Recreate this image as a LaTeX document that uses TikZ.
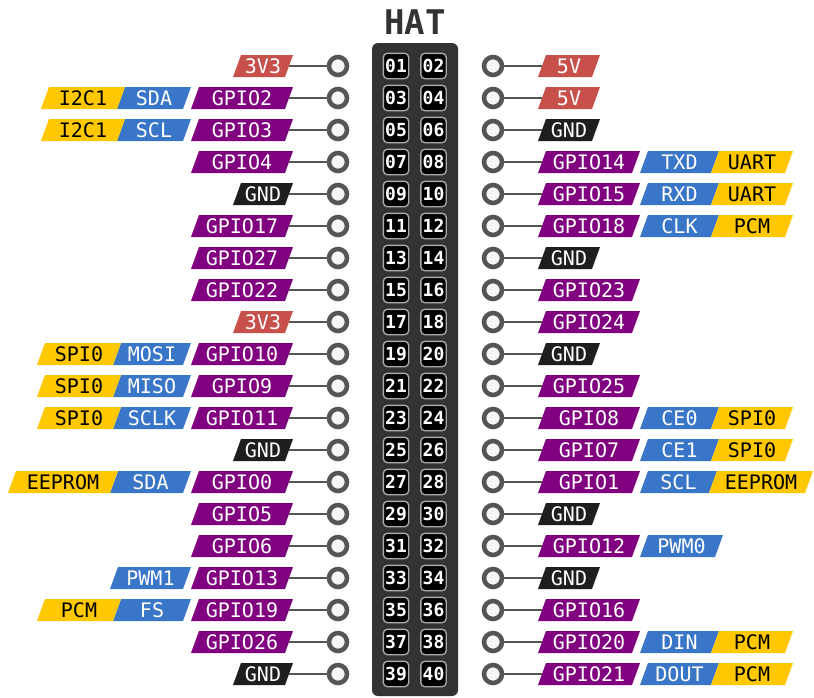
\documentclass[tikz,border=0pt]{standalone}
\usepackage{fontspec}
\newfontfamily\monofont{DejaVu Sans Mono}
\definecolor{cred}{RGB}{200,80,75}
\definecolor{cpur}{RGB}{128,0,128}
\definecolor{cblk}{RGB}{30,30,30}
\definecolor{cblu}{RGB}{58,118,200}
\definecolor{cyel}{RGB}{255,200,0}
\definecolor{cboard}{RGB}{51,51,51}
\definecolor{cwire}{RGB}{85,85,85}
\definecolor{chole}{RGB}{245,245,245}
\definecolor{cbox}{RGB}{170,170,170}
\tikzset{
  labtxt/.style={inner sep=0pt, minimum height=16.5pt, text height=10.9pt, text depth=0pt,
    font=\monofont\fontsize{15}{15}\selectfont},
  pinc/.style={circle, draw=cwire, fill=chole, line width=3.4pt, minimum size=13.5pt, inner sep=0pt},
  wire/.style={draw=cwire, line width=2.2pt},
  pinbox/.style={draw=cbox, fill=black, rounded corners=3pt, line width=1pt, minimum size=19pt,
    inner sep=0pt, text=white, text height=9.9pt, text depth=0pt,
    font=\monofont\bfseries\fontsize{13.5}{13.5}\selectfont},
  titlestyle/.style={inner sep=0pt, text=cboard, font=\monofont\bfseries\fontsize{25.5}{25.5}\selectfont},
}
\newcommand\slab[7]{%
  \fill[#5] ({#2},{34+32*#4+11}) -- ({#3},{34+32*#4+11}) -- ({#3+8},{34+32*#4-11}) -- ({#2+8},{34+32*#4-11}) -- cycle;
  \node[labtxt,text=#6,minimum width={(#3-#2)*0.75pt}] (#1) at ({(#2+#3)/2+4},{34+32*#4}) {#7};}
\newcommand\Lmain[4]{%
  \slab{L#1}{#2}{285}{#1}{#3}{white}{#4}
  \node[pinc] (CL#1) at (338,{34+32*#1}) {};
  \draw[wire] (L#1) -- (CL#1);}
\newcommand\Rmain[4]{%
  \slab{R#1}{538}{#2}{#1}{#3}{white}{#4}
  \node[pinc] (CR#1) at (493,{34+32*#1}) {};
  \draw[wire] (CR#1) -- (R#1);}
\newcommand\Lblue[3]{\slab{LB#1}{#3}{183}{#1}{cblu}{white}{#2}}
\newcommand\Lyel[4]{\slab{LY#1}{#3}{#4}{#1}{cyel}{black}{#2}}
\newcommand\Rblue[3]{\slab{RB#1}{640}{#3}{#1}{cblu}{white}{#2}}
\newcommand\Ryel[4]{\slab{RY#1}{#3}{#4}{#1}{cyel}{black}{#2}}
\begin{document}
\begin{tikzpicture}[x=0.75pt,y=-0.75pt]
\useasboundingbox (0,0) rectangle (814,697);
\node[titlestyle] (title) at (415,22.5) {HAT};
\fill[cboard, rounded corners=4.5pt] (372,43) rectangle (458,696);
\foreach \i/\a/\b in {1/01/02,2/03/04,3/05/06,4/07/08,5/09/10,6/11/12,7/13/14,8/15/16,9/17/18,10/19/20,
  11/21/22,12/23/24,13/25/26,14/27/28,15/29/30,16/31/32,17/33/34,18/35/36,19/37/38,20/39/40}{
  \node[pinbox] (P\a) at (396,{34+32*\i}) {\a};
  \node[pinbox] (P\b) at (433.5,{34+32*\i}) {\b};
}
% left side
\Lmain{1}{233}{cred}{3V3}
\Lmain{2}{191}{cpur}{GPIO2} \Lblue{2}{SDA}{117} \Lyel{2}{I2C1}{41}{117}
\Lmain{3}{191}{cpur}{GPIO3} \Lblue{3}{SCL}{117} \Lyel{3}{I2C1}{41}{117}
\Lmain{4}{191}{cpur}{GPIO4}
\Lmain{5}{233}{cblk}{GND}
\Lmain{6}{191}{cpur}{GPIO17}
\Lmain{7}{191}{cpur}{GPIO27}
\Lmain{8}{191}{cpur}{GPIO22}
\Lmain{9}{233}{cred}{3V3}
\Lmain{10}{191}{cpur}{GPIO10} \Lblue{10}{MOSI}{113} \Lyel{10}{SPI0}{37}{113}
\Lmain{11}{191}{cpur}{GPIO9} \Lblue{11}{MISO}{113} \Lyel{11}{SPI0}{37}{113}
\Lmain{12}{191}{cpur}{GPIO11} \Lblue{12}{SCLK}{113} \Lyel{12}{SPI0}{37}{113}
\Lmain{13}{233}{cblk}{GND}
\Lmain{14}{191}{cpur}{GPIO0} \Lblue{14}{SDA}{110} \Lyel{14}{EEPROM}{8}{110}
\Lmain{15}{191}{cpur}{GPIO5}
\Lmain{16}{191}{cpur}{GPIO6}
\Lmain{17}{191}{cpur}{GPIO13} \Lblue{17}{PWM1}{110}
\Lmain{18}{191}{cpur}{GPIO19} \Lblue{18}{FS}{113} \Lyel{18}{PCM}{37}{113}
\Lmain{19}{191}{cpur}{GPIO26}
\Lmain{20}{233}{cblk}{GND}
% right side
\Rmain{1}{592}{cred}{5V}
\Rmain{2}{592}{cred}{5V}
\Rmain{3}{592}{cblk}{GND}
\Rmain{4}{632}{cpur}{GPIO14} \Rblue{4}{TXD}{711} \Ryel{4}{UART}{711}{785}
\Rmain{5}{632}{cpur}{GPIO15} \Rblue{5}{RXD}{711} \Ryel{5}{UART}{711}{785}
\Rmain{6}{632}{cpur}{GPIO18} \Rblue{6}{CLK}{711} \Ryel{6}{PCM}{711}{785}
\Rmain{7}{592}{cblk}{GND}
\Rmain{8}{632}{cpur}{GPIO23}
\Rmain{9}{632}{cpur}{GPIO24}
\Rmain{10}{592}{cblk}{GND}
\Rmain{11}{632}{cpur}{GPIO25}
\Rmain{12}{632}{cpur}{GPIO8} \Rblue{12}{CE0}{711} \Ryel{12}{SPI0}{711}{785}
\Rmain{13}{632}{cpur}{GPIO7} \Rblue{13}{CE1}{711} \Ryel{13}{SPI0}{711}{785}
\Rmain{14}{632}{cpur}{GPIO1} \Rblue{14}{SCL}{709} \Ryel{14}{EEPROM}{709}{805}
\Rmain{15}{592}{cblk}{GND}
\Rmain{16}{632}{cpur}{GPIO12} \Rblue{16}{PWM0}{715}
\Rmain{17}{592}{cblk}{GND}
\Rmain{18}{632}{cpur}{GPIO16}
\Rmain{19}{632}{cpur}{GPIO20} \Rblue{19}{DIN}{711} \Ryel{19}{PCM}{711}{785}
\Rmain{20}{632}{cpur}{GPIO21} \Rblue{20}{DOUT}{711} \Ryel{20}{PCM}{711}{785}
\end{tikzpicture}
\end{document}
